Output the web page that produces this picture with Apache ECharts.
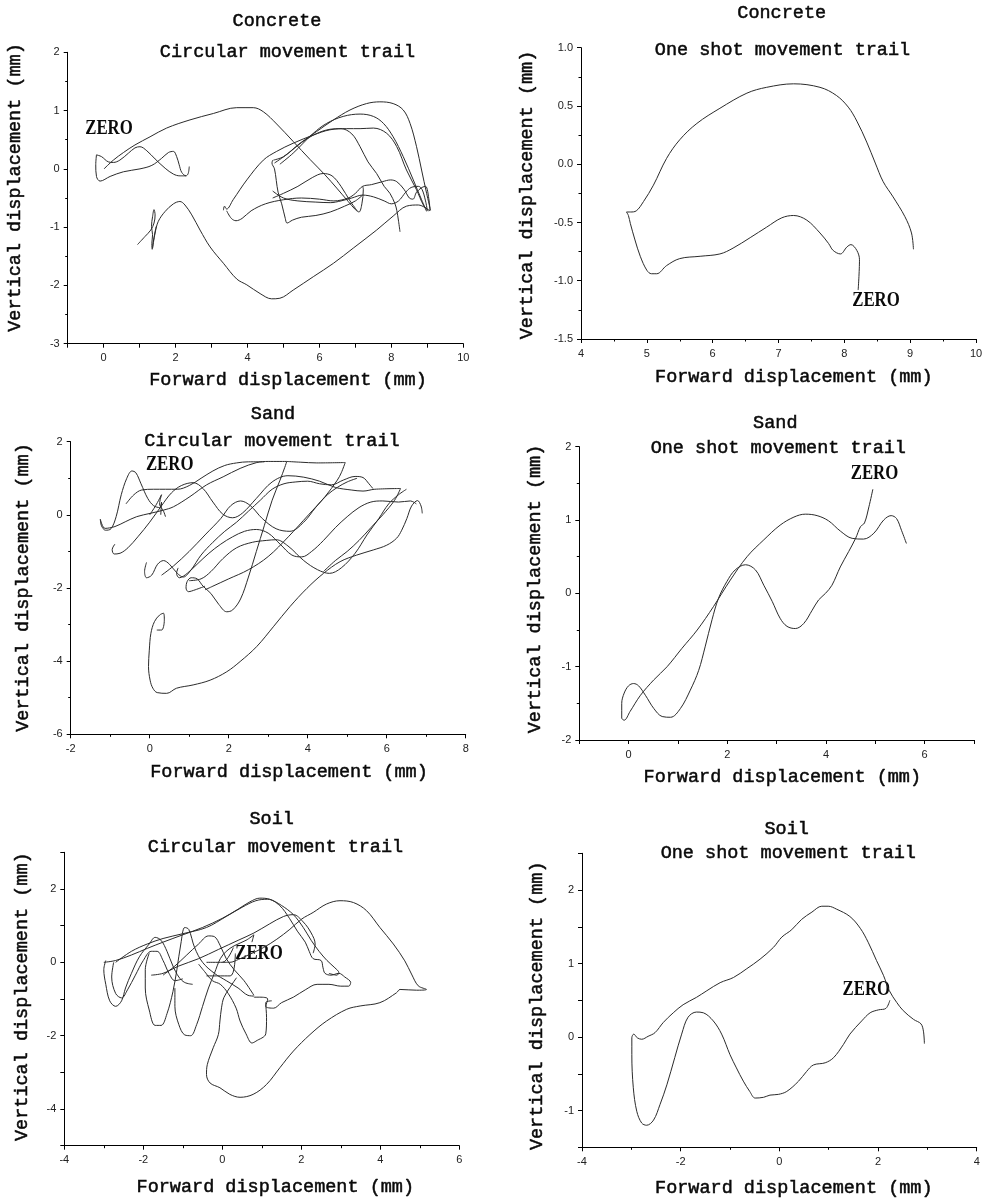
<!DOCTYPE html>
<html>
<head>
<meta charset="utf-8">
<script src="https://cdn.jsdelivr.net/npm/echarts@6/dist/echarts.min.js"></script>
<style>
html,body{margin:0;padding:0;background:#fff;}
#chart{width:988px;height:1202px;}
</style>
</head>
<body>
<div id="chart"></div>
<script>
// ---------------- DATA ----------------
// Panel 1: Concrete, circular movement trail
const concreteCircLoopA = [[-0.2,0.24],[-0.22,0.07],[-0.2,-0.13],[-0.1,-0.21],[0.18,-0.13],[0.55,-0.05],[1.01,0.0],[1.34,0.06],[1.61,0.18],[1.8,0.28],[1.94,0.3],[2.03,0.21],[2.1,0.07],[2.17,-0.06],[2.29,-0.12],[2.35,-0.08],[2.38,0.04]];
const concreteCircLoopB = [[-0.2,0.24],[-0.06,0.21],[0.13,0.12],[0.27,0.11],[0.45,0.15],[0.69,0.27],[0.87,0.36],[1.01,0.38],[1.2,0.31],[1.43,0.17],[1.71,0.01],[1.94,-0.09],[2.12,-0.12],[2.29,-0.12]];
const concreteCircArch = [[0.01,0.0],[0.27,0.15],[0.55,0.28],[0.87,0.41],[1.29,0.55],[1.75,0.7],[2.4,0.84],[3.05,0.95],[3.7,1.05],[4.16,1.05],[4.44,0.98],[4.81,0.77],[5.27,0.47],[5.74,0.16],[6.15,-0.1],[6.48,-0.33],[6.8,-0.56],[7.0,-0.7],[7.1,-0.74],[7.18,-0.6],[7.22,-0.35],[7.2,-0.3]];
const concreteCircBottom = [[9.07,-0.72],[8.75,-0.62],[8.42,-0.64],[8.05,-0.81],[7.59,-1.05],[6.94,-1.36],[6.39,-1.62],[5.83,-1.85],[5.27,-2.08],[4.9,-2.22],[4.67,-2.23],[4.35,-2.14],[3.98,-1.99],[3.7,-1.89],[3.33,-1.62],[2.96,-1.34],[2.68,-1.05],[2.45,-0.79],[2.26,-0.62],[2.12,-0.56],[1.94,-0.6],[1.71,-0.73],[1.52,-0.9],[1.43,-1.1],[1.36,-1.36]];
const concreteCircZig = [[0.94,-1.3],[1.15,-1.16],[1.31,-1.05],[1.4,-0.93],[1.43,-0.79],[1.4,-0.7],[1.36,-0.82],[1.33,-0.99],[1.36,-1.13],[1.34,-1.28],[1.35,-1.38],[1.38,-1.25],[1.43,-1.08],[1.46,-0.99]];
const concreteCircArchA = [[3.33,-0.71],[3.36,-0.64],[3.42,-0.69],[3.6,-0.53],[3.98,-0.19],[4.44,0.15],[4.81,0.3],[5.27,0.44],[5.83,0.58],[6.29,0.67],[6.76,0.69],[7.13,0.69],[7.5,0.7],[7.87,0.61],[8.15,0.38],[8.42,-0.02],[8.7,-0.36],[8.89,-0.62],[9.03,-0.72]];
const concreteCircArchB = [[4.72,0.15],[5.0,0.21],[5.46,0.44],[5.92,0.64],[6.39,0.84],[6.85,1.01],[7.31,1.12],[7.68,1.15],[8.05,1.12],[8.33,1.01],[8.52,0.78],[8.7,0.38],[8.84,-0.02],[8.98,-0.42],[9.09,-0.71]];
const concreteCircArchC = [[4.9,0.08],[5.27,0.27],[5.83,0.61],[6.2,0.78],[6.66,0.9],[7.13,0.94],[7.5,0.9],[7.78,0.78],[8.05,0.55],[8.33,0.21],[8.61,-0.19],[8.84,-0.53],[8.98,-0.73]];
const concreteCircArchD = [[4.75,0.1],[5.1,0.25],[5.5,0.45],[5.9,0.6],[6.3,0.68],[6.6,0.69],[6.9,0.6],[7.13,0.38],[7.35,0.12],[7.59,-0.08],[7.8,-0.3],[7.96,-0.42],[8.1,-0.6],[8.15,-0.71],[8.2,-0.9],[8.24,-1.08]];
const concreteCircArchE = [[4.7,-0.5],[5.0,-0.42],[5.4,-0.3],[5.8,-0.15],[6.1,-0.08],[6.35,-0.12],[6.6,-0.3],[6.85,-0.55],[7.05,-0.72]];
const concreteCircHook = [[4.7,0.15],[4.68,0.1],[4.75,0.0],[4.8,-0.2],[4.85,-0.4],[4.95,-0.6],[5.05,-0.85],[5.1,-0.93],[5.25,-0.88],[5.5,-0.83],[5.9,-0.8],[6.3,-0.74],[6.7,-0.64],[7.0,-0.55],[7.2,-0.45]];
const concreteCircWaveA = [[3.42,-0.72],[3.55,-0.85],[3.68,-0.89],[3.85,-0.85],[4.1,-0.72],[4.5,-0.6],[5.0,-0.53],[5.5,-0.5],[6.0,-0.52],[6.4,-0.55],[6.8,-0.5],[7.0,-0.42],[7.2,-0.3],[7.45,-0.27],[7.75,-0.22],[7.98,-0.19],[8.15,-0.22],[8.35,-0.35],[8.5,-0.5],[8.6,-0.52],[8.7,-0.4],[8.85,-0.32],[8.95,-0.3],[9.05,-0.55],[9.07,-0.72]];
const concreteCircWaveB = [[4.7,-0.38],[5.0,-0.5],[5.4,-0.55],[5.9,-0.57],[6.3,-0.58],[6.6,-0.55],[6.9,-0.5],[7.2,-0.45],[7.5,-0.48],[7.8,-0.55],[8.0,-0.6],[8.2,-0.55],[8.4,-0.4],[8.55,-0.32],[8.75,-0.3],[8.85,-0.35],[8.95,-0.55],[9.0,-0.72]];

// Panel 2: Concrete, one shot movement trail
const concreteShot = [[8.21,-1.08],[8.23,-0.82],[8.19,-0.74],[8.1,-0.69],[8.04,-0.71],[7.94,-0.77],[7.83,-0.74],[7.76,-0.68],[7.63,-0.59],[7.43,-0.48],[7.23,-0.44],[7.05,-0.46],[6.82,-0.54],[6.57,-0.63],[6.31,-0.72],[6.11,-0.77],[5.81,-0.79],[5.5,-0.81],[5.3,-0.87],[5.15,-0.94],[5.07,-0.94],[5.0,-0.91],[4.9,-0.79],[4.82,-0.65],[4.75,-0.51],[4.72,-0.44],[4.69,-0.41],[4.75,-0.41],[4.84,-0.4],[4.95,-0.32],[5.1,-0.18],[5.3,0.05],[5.5,0.21],[5.76,0.35],[6.11,0.48],[6.52,0.61],[6.82,0.66],[7.23,0.69],[7.63,0.66],[7.88,0.59],[8.06,0.49],[8.19,0.37],[8.34,0.19],[8.47,0.01],[8.59,-0.15],[8.74,-0.28],[8.92,-0.45],[9.02,-0.59],[9.05,-0.73]];

// Panel 3: Sand, circular movement trail
const sandCircHump = [[-1.25,-0.12],[-1.22,-0.3],[-1.12,-0.42],[-0.98,-0.38],[-0.85,-0.05],[-0.72,0.55],[-0.58,1.0],[-0.45,1.2],[-0.35,1.15],[-0.22,0.85],[-0.05,0.45],[0.1,0.25],[0.25,0.2],[0.3,0.35],[0.28,0.0]];
const sandCircTopA = [[-1.25,-0.12],[-1.13,-0.37],[-0.88,-0.32],[-0.62,-0.19],[-0.33,-0.05],[0.01,0.04],[0.35,0.13],[0.6,0.22],[1.02,0.5],[1.44,0.82],[1.86,1.04],[2.29,1.27],[2.71,1.43],[3.0,1.46],[3.47,1.46],[3.42,1.3],[3.3,0.95],[3.1,0.4],[2.9,-0.3],[2.7,-1.0],[2.5,-1.7],[2.3,-2.3],[2.1,-2.6],[1.95,-2.65],[1.75,-2.45],[1.55,-2.15],[1.35,-1.95],[1.2,-1.75],[1.05,-1.72],[0.95,-1.82],[0.92,-2.0],[0.98,-2.1],[1.15,-2.05],[1.4,-1.95]];
const sandCircTopB = [[3.47,1.46],[3.81,1.44],[4.23,1.42],[4.95,1.43],[4.85,1.15],[4.75,0.95],[4.44,0.5],[4.02,0.0],[3.51,-0.6],[3.0,-1.14],[2.5,-1.5],[2.0,-1.75],[1.6,-1.95],[1.4,-2.05]];
const sandCircWaveA = [[-0.88,-0.8],[-0.95,-0.95],[-0.9,-1.07],[-0.75,-1.05],[-0.55,-0.9],[-0.3,-0.6],[0.0,-0.2],[0.3,0.25],[0.55,0.6],[0.8,0.8],[1.1,0.88],[1.35,0.72],[1.6,0.35],[1.85,0.02],[2.1,-0.08],[2.35,0.05],[2.7,0.45],[3.1,0.9],[3.5,1.07],[3.9,1.03],[4.3,0.92],[4.7,0.75],[5.1,0.68],[5.4,0.65],[5.7,0.7],[6.35,0.72],[6.2,0.4],[5.9,0.0],[5.6,-0.35],[5.3,-0.7],[5.0,-1.0],[4.7,-1.25],[4.4,-1.55]];
const sandCircWaveB = [[-0.08,-1.3],[-0.13,-1.55],[-0.08,-1.72],[0.05,-1.65],[0.2,-1.35],[0.35,-1.25],[0.5,-1.35],[0.7,-1.6],[0.85,-1.7],[1.05,-1.5],[1.3,-1.1],[1.6,-0.75],[1.9,-0.45],[2.2,-0.2],[2.5,0.1],[2.8,0.4],[3.1,0.7],[3.4,0.85],[3.7,0.9],[4.0,0.92],[4.3,0.85],[4.6,0.82],[4.9,0.95],[5.2,1.05],[5.4,1.02],[5.55,0.85],[5.65,0.72]];
const sandCircWaveC = [[0.72,-1.45],[0.68,-1.6],[0.75,-1.72],[0.95,-1.6],[1.2,-1.35],[1.5,-1.05],[1.8,-0.8],[2.1,-0.6],[2.4,-0.45],[2.7,-0.4],[3.0,-0.5],[3.3,-0.8],[3.6,-1.1],[3.85,-1.15],[4.1,-1.0],[4.4,-0.7],[4.7,-0.35],[5.0,-0.05],[5.3,0.2],[5.6,0.35],[5.9,0.38],[6.3,0.35],[6.6,0.38],[6.75,0.3]];
const sandCircWaveD = [[1.0,-1.8],[1.3,-1.75],[1.55,-1.55],[1.85,-1.2],[2.2,-0.9],[2.6,-0.75],[2.95,-0.7],[3.2,-0.68],[3.5,-0.85],[3.9,-1.25],[4.25,-1.5],[4.55,-1.6],[4.85,-1.45],[5.2,-1.05],[5.5,-0.55],[5.8,-0.1],[6.05,0.3],[6.3,0.55],[6.5,0.7]];
const sandCircWaveE = [[0.3,-1.65],[0.6,-1.4],[1.0,-1.0],[1.4,-0.55],[1.8,-0.1],[2.05,0.25],[2.3,0.38],[2.55,0.25],[2.85,-0.1],[3.2,-0.38],[3.55,-0.45],[3.9,-0.2],[4.2,0.2],[4.5,0.55],[4.75,0.75],[5.0,0.9],[5.25,1.0]];
const sandCircFlat = [[-0.6,0.3],[-0.4,0.55],[-0.2,0.68],[0.1,0.7],[0.4,0.7],[0.7,0.7],[1.0,0.8],[1.3,1.0],[1.6,1.2],[1.9,1.35],[2.2,1.42],[2.5,1.45],[2.9,1.45]];
const sandCircZero = [[0.0,0.0],[0.15,0.25],[0.3,0.55],[0.25,0.3],[0.35,0.1],[0.4,-0.05]];
const sandCircBottom = [[0.18,-3.15],[0.3,-3.15],[0.37,-2.88],[0.35,-2.69],[0.25,-2.74],[0.12,-2.92],[0.03,-3.24],[-0.01,-3.7],[-0.03,-4.15],[0.01,-4.52],[0.08,-4.74],[0.19,-4.86],[0.43,-4.88],[0.68,-4.74],[1.1,-4.65],[1.53,-4.52],[1.95,-4.29],[2.29,-4.01],[2.71,-3.6],[3.13,-3.06],[3.55,-2.51],[3.98,-2.01],[4.4,-1.6],[4.82,-1.28],[5.24,-1.1],[5.66,-0.96],[6.0,-0.83],[6.25,-0.64],[6.38,-0.42],[6.51,-0.1],[6.63,0.24],[6.78,0.39],[6.87,0.24],[6.9,0.04]];

// Panel 4: Sand, one shot movement trail
const sandShot = [[4.95,1.42],[4.87,1.18],[4.78,0.96],[4.7,0.91],[4.6,0.75],[4.46,0.57],[4.29,0.36],[4.12,0.11],[3.99,0.0],[3.85,-0.09],[3.72,-0.23],[3.55,-0.41],[3.38,-0.48],[3.21,-0.45],[3.07,-0.34],[2.91,-0.11],[2.74,0.11],[2.57,0.32],[2.37,0.39],[2.16,0.32],[1.99,0.16],[1.82,-0.07],[1.69,-0.36],[1.55,-0.73],[1.42,-1.05],[1.25,-1.32],[1.05,-1.57],[0.85,-1.69],[0.68,-1.68],[0.51,-1.57],[0.34,-1.39],[0.2,-1.26],[0.1,-1.23],[0.0,-1.26],[-0.09,-1.36],[-0.14,-1.5],[-0.14,-1.7],[-0.09,-1.73],[0.03,-1.61],[0.24,-1.39],[0.51,-1.18],[0.78,-1.0],[1.08,-0.75],[1.39,-0.5],[1.72,-0.18],[2.06,0.18],[2.4,0.5],[2.74,0.73],[3.07,0.93],[3.35,1.04],[3.58,1.08],[3.82,1.06],[4.05,0.99],[4.29,0.85],[4.53,0.75],[4.76,0.74],[4.97,0.82],[5.17,1.0],[5.32,1.06],[5.43,1.02],[5.53,0.86],[5.63,0.68]];

// Panel 5: Soil, circular movement trail
const soilCircLobe = [[0.0,0.0],[0.19,0.0],[0.41,0.08],[0.7,0.22],[1.04,0.4],[1.38,0.63],[1.71,0.9],[2.01,1.18],[2.3,1.36],[2.64,1.59],[2.98,1.68],[3.32,1.63],[3.65,1.41],[3.99,0.95],[4.33,0.5],[4.62,0.04],[4.79,-0.32],[4.96,-0.64],[5.17,-0.74],[4.92,-0.76],[4.5,-0.74],[4.41,-0.83],[3.99,-1.1],[3.49,-1.19],[3.15,-1.28],[2.64,-1.6],[2.22,-1.97],[1.8,-2.42],[1.46,-2.87],[1.12,-3.33],[0.78,-3.6],[0.45,-3.68],[0.19,-3.6],[-0.06,-3.42],[-0.31,-3.29],[-0.4,-3.06],[-0.38,-2.79],[-0.23,-2.33],[-0.1,-1.97],[-0.06,-1.6],[-0.02,-1.24],[0.04,-0.96],[0.19,-0.69],[0.36,-0.42]];
const soilCircArchA = [[-3.0,0.0],[-2.7,0.05],[-2.3,0.2],[-1.9,0.38],[-1.5,0.55],[-1.0,0.75],[-0.5,0.95],[0.0,1.2],[0.4,1.45],[0.7,1.65],[0.95,1.75],[1.2,1.72],[1.5,1.55],[1.8,1.3],[2.05,0.95],[2.25,0.6],[2.45,0.3],[2.65,0.05],[2.85,-0.15],[2.95,-0.28],[2.9,-0.35],[2.7,-0.3]];
const soilCircArchB = [[-2.7,0.0],[-2.3,0.3],[-1.9,0.5],[-1.5,0.65],[-1.0,0.78],[-0.4,0.95],[0.1,1.25],[0.5,1.5],[0.85,1.68],[1.15,1.72],[1.45,1.55],[1.7,1.2],[1.9,0.85],[2.1,0.55],[2.2,0.3],[2.3,0.1],[2.5,0.05],[2.55,-0.15],[2.6,-0.3],[2.75,-0.35],[2.95,-0.3],[3.1,-0.4],[3.25,-0.55],[3.2,-0.65],[3.0,-0.65],[2.7,-0.6],[2.4,-0.6],[2.1,-0.75],[1.8,-0.95],[1.5,-1.1],[1.3,-1.25],[1.1,-1.2],[1.15,-1.0],[0.95,-0.95],[0.8,-0.95]];
const soilCircArchC = [[-1.8,-0.35],[-1.5,-0.3],[-1.1,-0.1],[-0.6,0.1],[-0.1,0.35],[0.4,0.6],[0.8,0.8],[1.2,1.05],[1.55,1.25],[1.8,1.3],[2.05,1.1],[2.25,0.8],[2.35,0.5],[2.3,0.25]];
const soilCircLoopA = [[-2.95,0.05],[-3.0,-0.2],[-2.95,-0.6],[-2.85,-1.05],[-2.7,-1.2],[-2.55,-1.05],[-2.45,-0.7],[-2.3,-0.3],[-2.1,0.15],[-1.85,0.5],[-1.7,0.68],[-1.55,0.6],[-1.4,0.3],[-1.25,-0.1],[-1.1,-0.4],[-0.95,-0.55],[-0.75,-0.6]];
const soilCircLoopB = [[-2.75,0.0],[-2.8,-0.4],[-2.7,-0.85],[-2.55,-0.97],[-2.4,-0.75],[-2.2,-0.35],[-2.0,0.05],[-1.8,0.3],[-1.65,0.3],[-1.5,0.05],[-1.35,-0.3],[-1.2,-0.5],[-1.0,-0.45]];
const soilCircLoopC = [[-1.85,0.25],[-1.95,-0.2],[-1.95,-0.7],[-1.85,-1.3],[-1.7,-1.72],[-1.55,-1.72],[-1.4,-1.4],[-1.25,-0.8],[-1.15,-0.2],[-1.05,0.5],[-0.95,0.95],[-0.85,0.9],[-0.7,0.4],[-0.5,0.0],[-0.2,-0.3],[0.1,-0.5],[0.4,-0.7],[0.65,-0.9],[0.8,-0.92]];
const soilCircLoopD = [[-1.2,-0.7],[-1.2,-1.2],[-1.1,-1.7],[-0.95,-1.98],[-0.8,-2.0],[-0.65,-1.7],[-0.5,-1.2],[-0.35,-0.7],[-0.2,-0.3],[-0.05,0.1],[0.1,0.3],[0.3,0.45],[0.6,0.6],[0.8,0.75],[0.75,0.55]];
const soilCircLoopE = [[-0.6,-0.05],[-0.45,-0.25],[-0.25,-0.5],[-0.05,-0.6],[0.15,-0.85],[0.35,-1.25],[0.45,-1.6],[0.6,-1.95],[0.75,-2.2],[0.85,-2.15],[1.1,-1.95],[1.12,-1.5],[1.1,-1.1],[1.25,-1.05]];
const soilCircWave = [[-1.5,-0.35],[-1.2,-0.1],[-0.9,0.2],[-0.6,0.5],[-0.35,0.72],[-0.2,0.7],[-0.05,0.45],[0.1,0.1],[0.3,-0.2],[0.55,-0.5],[0.8,-0.9]];
const soilCircZeroA = [[-0.4,0.0],[0.0,0.0],[0.28,0.4]];
const soilCircZeroB = [[-0.4,-0.37],[0.2,-0.37],[0.33,0.24]];

// Panel 6: Soil, one shot movement trail
const soilShot = [[2.24,0.5],[2.16,0.39],[2.01,0.37],[1.84,0.33],[1.67,0.22],[1.43,0.04],[1.3,-0.1],[1.1,-0.28],[0.93,-0.35],[0.69,-0.38],[0.55,-0.47],[0.39,-0.6],[0.15,-0.74],[-0.02,-0.78],[-0.19,-0.79],[-0.32,-0.82],[-0.49,-0.83],[-0.6,-0.74],[-0.73,-0.6],[-0.87,-0.42],[-1.0,-0.24],[-1.17,0.04],[-1.34,0.22],[-1.54,0.33],[-1.68,0.34],[-1.85,0.27],[-1.98,0.04],[-2.12,-0.28],[-2.28,-0.65],[-2.42,-0.92],[-2.55,-1.13],[-2.69,-1.2],[-2.79,-1.17],[-2.89,-1.01],[-2.96,-0.69],[-2.99,-0.24],[-2.99,-0.01],[-2.95,0.04],[-2.88,-0.01],[-2.79,-0.03],[-2.66,0.01],[-2.52,0.06],[-2.35,0.2],[-2.15,0.33],[-1.95,0.44],[-1.68,0.54],[-1.47,0.63],[-1.2,0.74],[-0.93,0.81],[-0.66,0.93],[-0.39,1.06],[-0.12,1.22],[0.05,1.36],[0.25,1.46],[0.45,1.6],[0.66,1.7],[0.86,1.78],[0.99,1.78],[1.16,1.74],[1.43,1.64],[1.64,1.48],[1.8,1.29],[1.97,1.04],[2.11,0.84],[2.23,0.63],[2.38,0.47],[2.51,0.36],[2.72,0.24],[2.87,0.18],[2.92,0.08],[2.94,-0.09]];

// Titles
const materials = ['Concrete','Concrete','Sand','Sand','Soil','Soil'];
const trailNames = ['Circular movement trail','One shot movement trail','Circular movement trail','One shot movement trail','Circular movement trail','One shot movement trail'];
const xAxisTitle = 'Forward displacement (mm)';
const yAxisTitle = 'Vertical displacement (mm)';
const zeroText = 'ZERO';

const panelStrokes = [
  [concreteCircLoopA, concreteCircLoopB, concreteCircArch, concreteCircBottom, concreteCircZig, concreteCircArchA, concreteCircArchB, concreteCircArchC, concreteCircArchD, concreteCircArchE, concreteCircHook, concreteCircWaveA, concreteCircWaveB],
  [concreteShot],
  [sandCircHump, sandCircTopA, sandCircTopB, sandCircWaveA, sandCircWaveB, sandCircWaveC, sandCircWaveD, sandCircWaveE, sandCircFlat, sandCircZero, sandCircBottom],
  [sandShot],
  [soilCircLobe, soilCircArchA, soilCircArchB, soilCircArchC, soilCircLoopA, soilCircLoopB, soilCircLoopC, soilCircLoopD, soilCircLoopE, soilCircWave, soilCircZeroA, soilCircZeroB],
  [soilShot]
];

// ---------------- LAYOUT ----------------
const grids = [
  {left:67.7, top:52.3, width:395.6, height:291.4},
  {left:581, top:47.7, width:395, height:291.3},
  {left:70.7, top:441.7, width:395, height:292.6},
  {left:579.3, top:446.7, width:394.7, height:293.3},
  {left:64.3, top:852.3, width:395, height:293.4},
  {left:582, top:853.3, width:394.7, height:294}
];
const evenOnly = v => (Math.round(v) % 2 === 0 ? String(v) : '');
const intOnly = v => (Number.isInteger(v) ? String(v) : '');
const oneDec = v => v.toFixed(1);
const xCfg = [
  {min:-1, max:10, interval:1, fmt:evenOnly, minor:0},
  {min:4, max:10, interval:1, fmt:null, minor:2},
  {min:-2, max:8, interval:2, fmt:null, minor:2},
  {min:-1, max:7, interval:1, fmt:evenOnly, minor:0},
  {min:-4, max:6, interval:2, fmt:null, minor:2},
  {min:-4, max:4, interval:2, fmt:null, minor:2}
];
const yCfg = [
  {min:-3, max:2, interval:1, fmt:null, minor:2},
  {min:-1.5, max:1.0, interval:0.5, fmt:oneDec, minor:2},
  {min:-6, max:2, interval:2, fmt:null, minor:2},
  {min:-2, max:2, interval:1, fmt:null, minor:2},
  {min:-5, max:3, interval:1, fmt:evenOnly, minor:0},
  {min:-1.5, max:2.5, interval:0.5, fmt:intOnly, minor:0}
];
const titlePos = [
  [[277,21],[287.5,52]], [[781.7,13],[782.5,50]],
  [[273,414],[272,441]], [[775.3,423],[778.3,448]],
  [[271.7,819],[275.5,847]], [[786.7,829],[788.3,853]]
];
const xTitlePos = [[288,380],[793.8,377],[289,771.7],[782.3,776.7],[275.3,1186.7],[793.8,1188]];
const yTitlePos = [[15,187.5],[526.7,195],[23.3,587.5],[535,589],[21.7,996.7],[536.7,1005.8]];
const zeroPos = [[109,129],[876,301],[169.7,464.7],[874.5,474],[259,954],[866.3,989.7]];

const FONT_T = '"Liberation Mono", "DejaVu Sans Mono", monospace';
const axisColor = '#000';
const labelFont = {fontFamily:'"Liberation Sans", Arial, sans-serif', fontSize:11, color:'#222'};

function mkAxis(cfg, i, isX) {
  const ax = {
    type:'value', gridIndex:i, min:cfg.min, max:cfg.max, interval:cfg.interval,
    axisLine:{show:true, onZero:false, lineStyle:{color:axisColor, width:1}},
    axisTick:{show:true, inside:false, length:4, lineStyle:{color:axisColor, width:1}},
    minorTick:{show:cfg.minor>0, splitNumber:cfg.minor||5, length:2.5, lineStyle:{color:axisColor, width:1}},
    splitLine:{show:false},
    axisLabel:Object.assign({show:true, margin:isX?9:8, showMinLabel:true, showMaxLabel:true}, labelFont),
    position: isX ? 'bottom' : 'left'
  };
  if (cfg.fmt) ax.axisLabel.formatter = cfg.fmt;
  return ax;
}

const series = [];
panelStrokes.forEach((strokes, i) => {
  strokes.forEach(d => {
    series.push({
      type:'line', xAxisIndex:i, yAxisIndex:i, data:d,
      showSymbol:false, symbol:'none', smooth:0.35, silent:true, clip:false,
      lineStyle:{color:'#2b2b2b', width:1}
    });
  });
});

const graphic = [];
function txt(x, y, text, font, opts, strokeW) {
  graphic.push(Object.assign({
    type:'text', x:x, y:y, silent:true,
    style:{text:text, font:font, fill:'#0a0a0a', stroke:'#0a0a0a', lineWidth:strokeW, textAlign:'center', textVerticalAlign:'middle'}
  }, opts || {}));
}
for (let i = 0; i < 6; i++) {
  txt(titlePos[i][0][0], titlePos[i][0][1], materials[i], '18.5px ' + FONT_T, null, 0.5);
  txt(titlePos[i][1][0], titlePos[i][1][1], trailNames[i], '18.5px ' + FONT_T, null, 0.5);
  txt(xTitlePos[i][0], xTitlePos[i][1], xAxisTitle, '18.5px ' + FONT_T, null, 0.5);
  txt(yTitlePos[i][0], yTitlePos[i][1], yAxisTitle, '18.5px ' + FONT_T, {rotation:Math.PI/2}, 0.5);
  txt(zeroPos[i][0], zeroPos[i][1], zeroText, 'bold 21px "Liberation Serif", "Times New Roman", serif', {scaleX:0.8}, 0);
}

const option = {
  animation:false,
  backgroundColor:'#fff',
  grid: grids,
  xAxis: xCfg.map((c,i) => mkAxis(c,i,true)),
  yAxis: yCfg.map((c,i) => mkAxis(c,i,false)),
  series: series,
  graphic: graphic
};
const chart = echarts.init(document.getElementById('chart'), null, {renderer:'canvas', width:988, height:1202});
chart.setOption(option);
</script>
</body>
</html>
